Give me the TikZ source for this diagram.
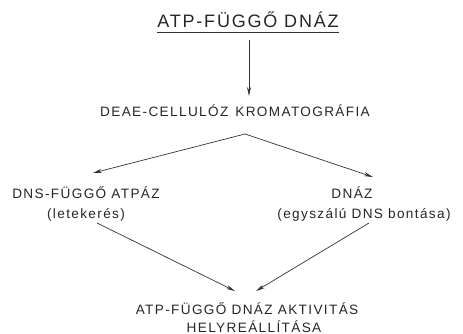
\documentclass[tikz,border=0pt]{standalone}
\usepackage{fontspec}
\setmainfont{Liberation Sans}[LetterSpace=10]
\usetikzlibrary{arrows.meta}
\begin{document}
\begin{tikzpicture}[x=1pt,y=-1pt,
  lbl/.style={inner sep=0pt,font=\fontsize{13.6}{16}\selectfont,text=black!85,align=center},
  ttl/.style={inner sep=0pt,font=\fontsize{18}{20}\selectfont,text=black!85},
  arr/.style={draw=black!80,line width=0.7pt,-{Stealth[length=9pt,width=4pt]}}]
\useasboundingbox (0,0) rectangle (463,334);
\node[ttl,anchor=base] (t) at (248,28) {ATP-FÜGGŐ DNÁZ};
\draw[black!80,line width=0.7pt] (t.base west)++(0,4.5) coordinate (u1) -- (t.base east|-u1);
\coordinate (a1) at (249,40);
\node[lbl,anchor=base] (d) at (235,117) {DEAE-CELLULÓZ\hspace{7pt}KROMATOGRÁFIA};
\coordinate (a2) at (249,96);
\draw[arr] (a1) -- (a2);
\coordinate (apex) at (245,134);
\coordinate (le) at (93,173);
\coordinate (re) at (373,177);
\draw[arr] (apex) -- (le);
\draw[arr] (apex) -- (re);
\node[lbl,anchor=base] (l1) at (86,198) {DNS-FÜGGŐ ATPÁZ};
\node[lbl,anchor=base] (l2) at (86,218) {(letekerés)};
\node[lbl,anchor=base] (r1) at (352,198) {DNÁZ};
\node[lbl,anchor=base] (r2) at (364,218) {(egyszálú DNS bontása)};
\coordinate (ls) at (97,223);
\coordinate (rs) at (369,223);
\coordinate (le2) at (235,291);
\coordinate (re2) at (256,291);
\draw[arr] (ls) -- (le2);
\draw[arr] (rs) -- (re2);
\node[lbl,anchor=base] (b1) at (247,314) {ATP-FÜGGŐ DNÁZ AKTIVITÁS};
\node[lbl,anchor=base] (b2) at (254,332) {HELYREÁLLÍTÁSA};
\end{tikzpicture}
\end{document}
